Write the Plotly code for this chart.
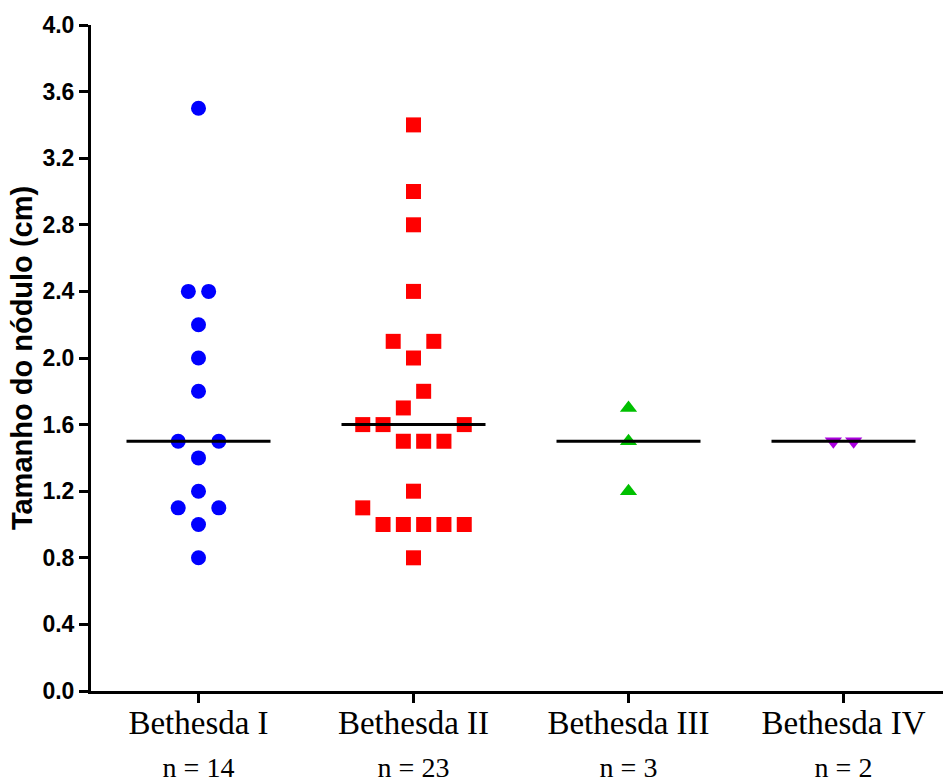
import numpy as np
import plotly.graph_objects as go

# ---- data ----
categories = ["Bethesda I", "Bethesda II", "Bethesda III", "Bethesda IV"]
bethesda_1 = [3.5, 2.4, 2.4, 2.2, 2.0, 1.8, 1.5, 1.5, 1.4, 1.2, 1.1, 1.1, 1.0, 0.8]
bethesda_2 = [3.4, 3.0, 2.8, 2.4, 2.1, 2.1, 2.0, 1.8, 1.7, 1.6, 1.6, 1.6,
              1.5, 1.5, 1.5, 1.2, 1.1, 1.0, 1.0, 1.0, 1.0, 1.0, 0.8]
bethesda_3 = [1.7, 1.5, 1.2]
bethesda_4 = [1.5, 1.5]
series = [bethesda_1, bethesda_2, bethesda_3, bethesda_4]
y_ticks = [0.0, 0.4, 0.8, 1.2, 1.6, 2.0, 2.4, 2.8, 3.2, 3.6, 4.0]

# ---- styles ----
colors = ["#0000FF", "#FF0000", "#00C000", "#AA00DD"]
symbols = ["circle", "square", "triangle-up", "triangle-down"]
sizes = [15, 15, 15, 15]

PX_PER_CAT = 215.0
SLOT = 20.3 / PX_PER_CAT      # horizontal spacing between neighbouring points
HALF_LINE = 72.0 / PX_PER_CAT # half-width of the median line


def swarm_offsets(values, bin_h=0.15):
    """Prism-like column scatter: close values are grouped into rows."""
    order = sorted(range(len(values)), key=lambda i: values[i])
    bins = []
    for i in order:
        if bins and values[i] - values[bins[-1][0]] < bin_h:
            bins[-1].append(i)
        else:
            bins.append([i])
    offs = [0.0] * len(values)
    for b in bins:
        n = len(b)
        if n % 2:
            seq = [0.0]
            k = 1
            while len(seq) < n:
                seq += [-k, k]
                k += 1
        else:
            seq = [-0.5, 0.5]
            k = 1
            while len(seq) < n:
                seq += [k + 0.5, -(k + 0.5)]
                k += 1
        for idx, s in zip(b, seq):
            offs[idx] = s * SLOT
    return offs


fig = go.Figure()

for i, vals in enumerate(series):
    offs = swarm_offsets(vals)
    fig.add_trace(go.Scatter(
        x=[i + o for o in offs], y=vals, mode="markers",
        marker=dict(symbol=symbols[i], size=sizes[i], color=colors[i],
                    line=dict(width=0)),
        showlegend=False, hoverinfo="y"))

for i, vals in enumerate(series):
    med = float(np.median(vals))
    fig.add_trace(go.Scatter(
        x=[i - HALF_LINE, i + HALF_LINE], y=[med, med], mode="lines",
        line=dict(color="black", width=3), showlegend=False, hoverinfo="skip"))

tick_text = [f"{c}<br><span style='font-size:28px'>n = {len(v)}</span>"
             for c, v in zip(categories, series)]

fig.update_layout(
    width=943, height=784,
    margin=dict(l=91, r=0, t=25, b=93),
    plot_bgcolor="white", paper_bgcolor="white",
    xaxis=dict(
        range=[-0.5, 3.4628], automargin=False,
        tickmode="array", tickvals=list(range(len(categories))), ticktext=tick_text,
        tickfont=dict(family="Liberation Serif, Times New Roman, serif", size=33, color="black"),
        ticklabelstandoff=-9,
        showline=True, linecolor="black", linewidth=3,
        ticks="outside", ticklen=9, tickwidth=3, tickcolor="black",
        showgrid=False, zeroline=False,
    ),
    yaxis=dict(
        range=[0, 4.0], automargin=False,
        tickmode="array", tickvals=y_ticks, ticktext=[f"{t:.1f}" for t in y_ticks],
        tickfont=dict(family="Liberation Sans, Arial, sans-serif", size=23, color="black",
                      weight="bold"),
        title=dict(text="Tamanho do nódulo (cm)", standoff=2,
                   font=dict(family="Liberation Sans, Arial, sans-serif", size=29,
                             color="black", weight="bold")),
        showline=True, linecolor="black", linewidth=3,
        ticks="outside", ticklen=9, tickwidth=3, tickcolor="black",
        showgrid=False, zeroline=False,
    ),
)

fig.write_html("out.html")
